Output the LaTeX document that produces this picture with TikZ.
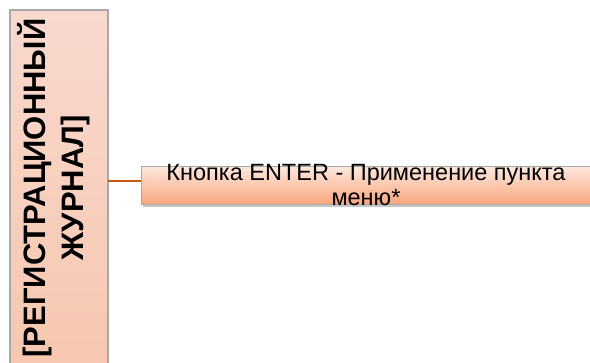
\documentclass[tikz,border=0pt]{standalone}
\usepackage{fontspec}
\setmainfont{Liberation Sans}[BoldFont={Liberation Sans Bold}]
\usetikzlibrary{shadows}
\definecolor{lineor}{HTML}{C55A11}
\definecolor{lefttop}{HTML}{F8D9CF}
\definecolor{leftbot}{HTML}{F7C6AE}
\definecolor{righttop}{HTML}{FDE8DE}
\definecolor{rightbot}{HTML}{F8A57C}
\definecolor{edge}{HTML}{A8A8A8}
\tikzset{
  journal/.style={draw=edge, line width=1.2pt, top color=lefttop, bottom color=leftbot},
  itembox/.style={draw=edge, line width=1pt, top color=righttop, bottom color=rightbot,
    drop shadow={shadow xshift=1pt, shadow yshift=-3pt, opacity=0.45}},
  link/.style={draw=lineor, line width=2pt}
}
\begin{document}
\begin{tikzpicture}[x=1pt,y=-1pt]
\useasboundingbox (0,0) rectangle (590,363);
\begin{scope}
\clip (0,0) rectangle (590,363);
\path[journal] (10,10) rectangle (108,380);
\node[rotate=90, align=center, font=\bfseries\fontsize{31}{38}\selectfont, inner sep=0pt] (jt) at (54,188) {[РЕГИСТРАЦИОННЫЙ\\ЖУРНАЛ]};
\node[itembox, minimum width=470, minimum height=38, anchor=north west, inner sep=0pt] (item) at (141,166) {};
\node[align=center, font=\fontsize{23.5}{24.5}\selectfont, inner sep=0pt] (itext) at (366,185) {Кнопка ENTER - Применение пункта\\меню*};
\coordinate (j) at (108,181);
\draw[link] (j) -- (item.west |- j);
\end{scope}
\end{tikzpicture}
\end{document}
